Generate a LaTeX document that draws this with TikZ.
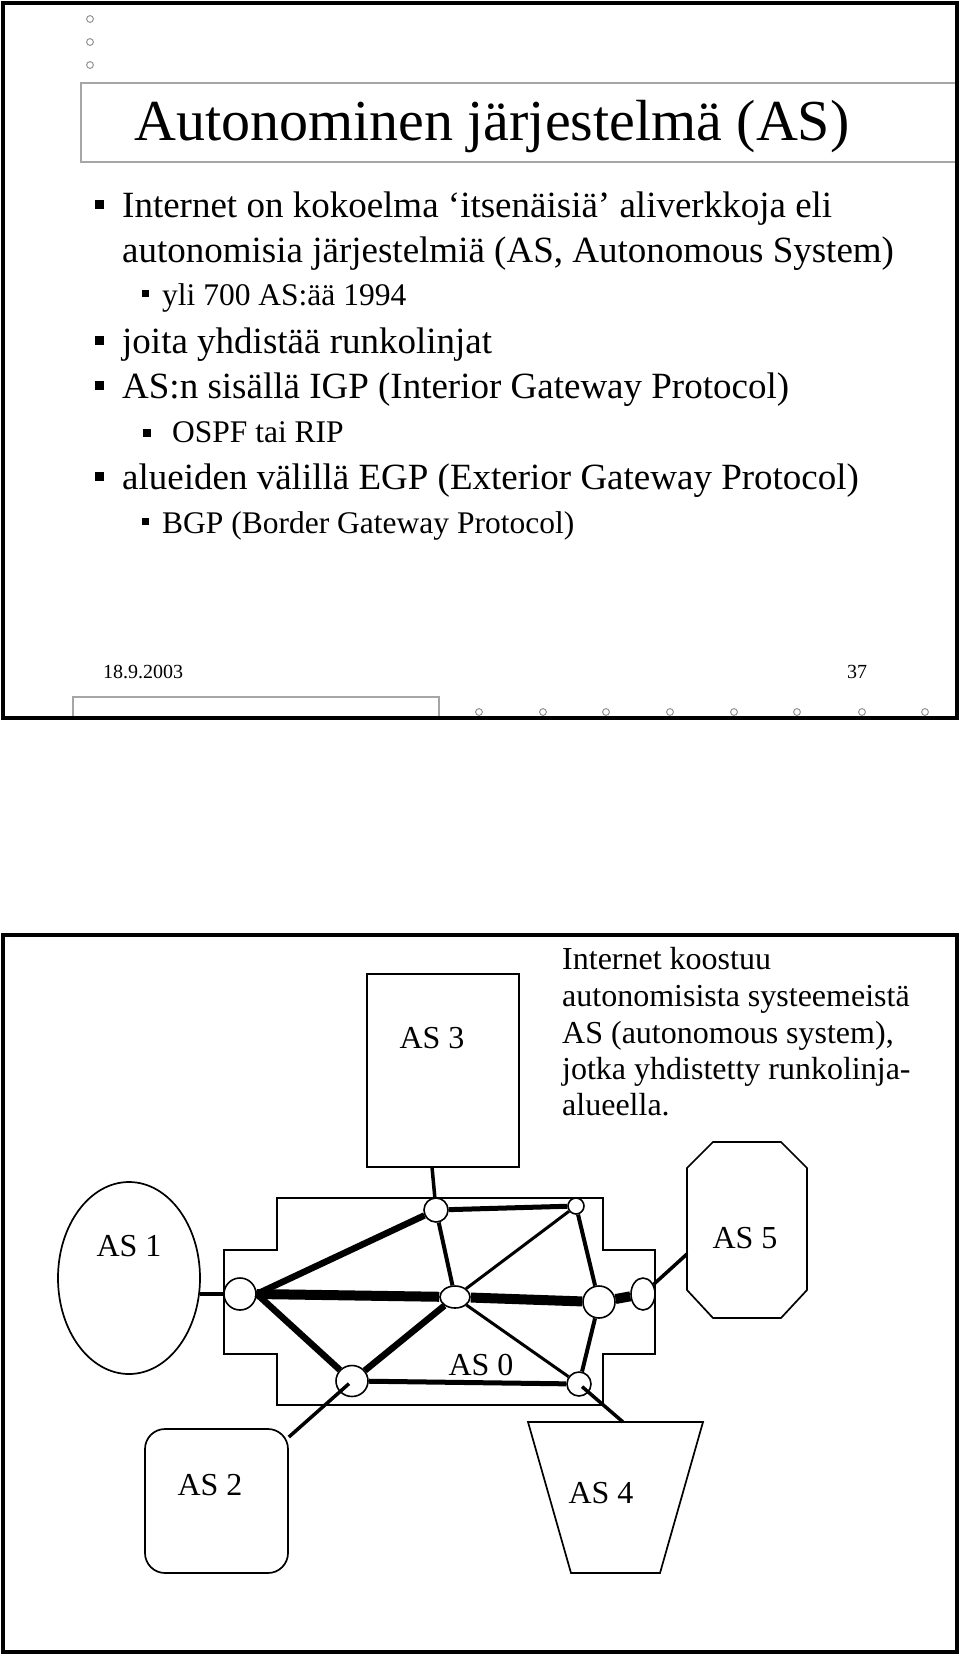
\documentclass[tikz,border=0pt]{standalone}
\usepackage{fontspec}
\setmainfont{Liberation Serif}
\usetikzlibrary{shapes.geometric,calc}
\begin{document}
\begin{tikzpicture}[x=1pt,y=-1pt,
  frame/.style={draw=black,line width=3.2pt},
  deco/.style={draw=black!35,line width=1.3pt},
  dotc/.style={draw=black!45,line width=0.9pt},
  bul/.style={fill=black},
  txt/.style={anchor=base west,inner sep=0pt,font=\fontsize{37}{44}\selectfont},
  subtxt/.style={anchor=base west,inner sep=0pt,font=\fontsize{31.5}{38}\selectfont},
  ttl/.style={anchor=base west,inner sep=0pt,font=\fontsize{58}{66}\selectfont},
  foot/.style={anchor=base west,inner sep=0pt,font=\fontsize{20}{24}\selectfont},
  dtxt/.style={anchor=base west,inner sep=0pt,font=\fontsize{32}{37}\selectfont},
  lbl/.style={anchor=base,inner sep=0pt,font=\fontsize{32}{37}\selectfont},
  outline/.style={draw,line width=1.7pt},
  router/.style={ellipse,draw,fill=white,line width=1.6pt,inner sep=0pt},
  eA/.style={line width=10pt},
  eB/.style={line width=6.5pt},
  eC/.style={line width=5pt},
  eD/.style={line width=4pt},
  eE/.style={line width=3pt},
  conn/.style={line width=3.5pt}
]
\useasboundingbox (0,0) rectangle (960,1654);
\fill[white] (0,0) rectangle (960,1654);

% ---------- upper slide ----------
\draw[dotc] (90,19) circle (3.4);
\draw[dotc] (90,42) circle (3.4);
\draw[dotc] (90,65) circle (3.4);
\draw[deco] (81,83) rectangle (957,162);
\node[ttl] (title) at (134,140) {Autonominen järjestelmä (AS)};

\fill[bul] (95,199.5) rectangle (104,208.5);
\node[txt] (l1) at (122,217) {Internet on kokoelma ‘itsenäisiä’ aliverkkoja eli};
\node[txt] (l2) at (122,262) {autonomisia järjestelmiä (AS, Autonomous System)};
\fill[bul] (142,290) rectangle (149,297);
\node[subtxt] (l3) at (162,305) {yli 700 AS:ää 1994};
\fill[bul] (95,335.5) rectangle (104,344.5);
\node[txt] (l4) at (122,353) {joita yhdistää runkolinjat};
\fill[bul] (95,380.5) rectangle (104,389.5);
\node[txt] (l5) at (122,398) {AS:n sisällä IGP (Interior Gateway Protocol)};
\fill[bul] (143,429) rectangle (150.5,436.5);
\node[subtxt] (l6) at (172,442) {OSPF tai RIP};
\fill[bul] (95,471.5) rectangle (104,480.5);
\node[txt] (l7) at (122,489) {alueiden välillä EGP (Exterior Gateway Protocol)};
\fill[bul] (142,518) rectangle (149,525);
\node[subtxt] (l8) at (162,533) {BGP (Border Gateway Protocol)};

\node[foot] (date) at (103,678) {18.9.2003};
\node[foot] (page) at (847,678) {37};
\draw[deco] (73,718) -- (73,697) -- (439,697) -- (439,718);
\foreach \xx in {479,543,606,670,734,797,862,925}
  \draw[dotc] (\xx,712) circle (3.4);
\draw[frame] (3,3) rectangle (957,718);

% ---------- lower slide ----------
\draw[frame] (3,935) rectangle (957,1652);

\node[dtxt] (d1) at (562,969) {Internet koostuu};
\node[dtxt] (d2) at (562,1006) {autonomisista systeemeistä};
\node[dtxt] (d3) at (562,1043) {AS (autonomous system),};
\node[dtxt] (d4) at (562,1079) {jotka yhdistetty runkolinja-};
\node[dtxt] (d5) at (562,1115) {alueella.};

% AS 3
\node[rectangle,outline,minimum width=152pt,minimum height=193pt,inner sep=0pt] (as3) at (443,1070.5) {};
\node[lbl] (as3l) at (432,1048) {AS 3};
\coordinate (as3b) at (432,1167);

% AS 1
\node[ellipse,outline,minimum width=142pt,minimum height=192pt,inner sep=0pt] (as1) at (129,1278) {};
\node[lbl] (as1l) at (129,1256) {AS 1};
\coordinate (as1e) at (200,1294);

% AS 5 (octagon)
\draw[outline] (713,1142) -- (781,1142) -- (807,1168) -- (807,1290) -- (781,1318) -- (713,1318) -- (687,1290) -- (687,1168) -- cycle;
\node[lbl] (as5l) at (745,1248) {AS 5};
\coordinate (as5w) at (687,1254);

% AS 2
\node[rectangle,rounded corners=20pt,outline,minimum width=143pt,minimum height=144pt,inner sep=0pt] (as2) at (216.5,1501) {};
\node[lbl] (as2l) at (210,1495) {AS 2};

% AS 4 (trapezoid)
\draw[outline] (528,1422) -- (703,1422) -- (660,1573) -- (571,1573) -- cycle;
\node[lbl] (as4l) at (601,1503) {AS 4};
\coordinate (as4t) at (623,1422);

% AS 0 (backbone area)
\draw[outline] (277,1198) -- (603,1198) -- (603,1250) -- (655,1250) -- (655,1354) -- (603,1354) -- (603,1405) -- (277,1405) -- (277,1354) -- (224,1354) -- (224,1250) -- (277,1250) -- cycle;
\node[lbl] (as0l) at (481,1375) {AS 0};

% routers
\node[router,minimum width=32pt,minimum height=32pt] (nleft) at (240,1294) {};
\node[router,minimum width=24pt,minimum height=24pt] (ntop) at (436,1210) {};
\node[router,minimum width=16pt,minimum height=16pt] (ntr) at (576,1206) {};
\node[router,minimum width=30pt,minimum height=22pt] (ncen) at (455,1297) {};
\node[router,minimum width=32pt,minimum height=32pt] (nr1) at (599,1302) {};
\node[router,minimum width=24pt,minimum height=32pt] (nr2) at (643,1294) {};
\node[router,minimum width=32pt,minimum height=31pt] (nbl) at (352,1381) {};
\node[router,minimum width=24pt,minimum height=24pt] (nbr) at (579,1384) {};

% backbone links
\draw[eA] (nleft.east) -- (ncen);
\draw[eA] (ncen) -- (nr1);
\draw[eA] (nr1) -- (nr2);
\draw[eB] (nleft.east) -- (ntop);
\draw[eB] (nleft.east) -- (nbl);
\draw[eB] (ncen) -- (nbl);
\draw[eC] (nbl) -- (nbr);
\draw[eC] (ntop) -- (ntr);
\draw[eD] (ntop) -- (ncen);
\draw[eD] (ntr) -- (nr1);
\draw[eD] (nr1) -- (nbr);
\draw[eE] (ncen) -- (ntr);
\draw[eE] (ncen) -- (nbr);

% links to other AS
\draw[conn] (as1e) -- (nleft);
\draw[conn] (as3b) -- (ntop);
\draw[conn] (nr2) -- (as5w);
\draw[conn,shorten <=4pt] (nbl.center) -- (as2);
\draw[conn,shorten <=4pt] (nbr.center) -- (as4t);
\end{tikzpicture}
\end{document}
